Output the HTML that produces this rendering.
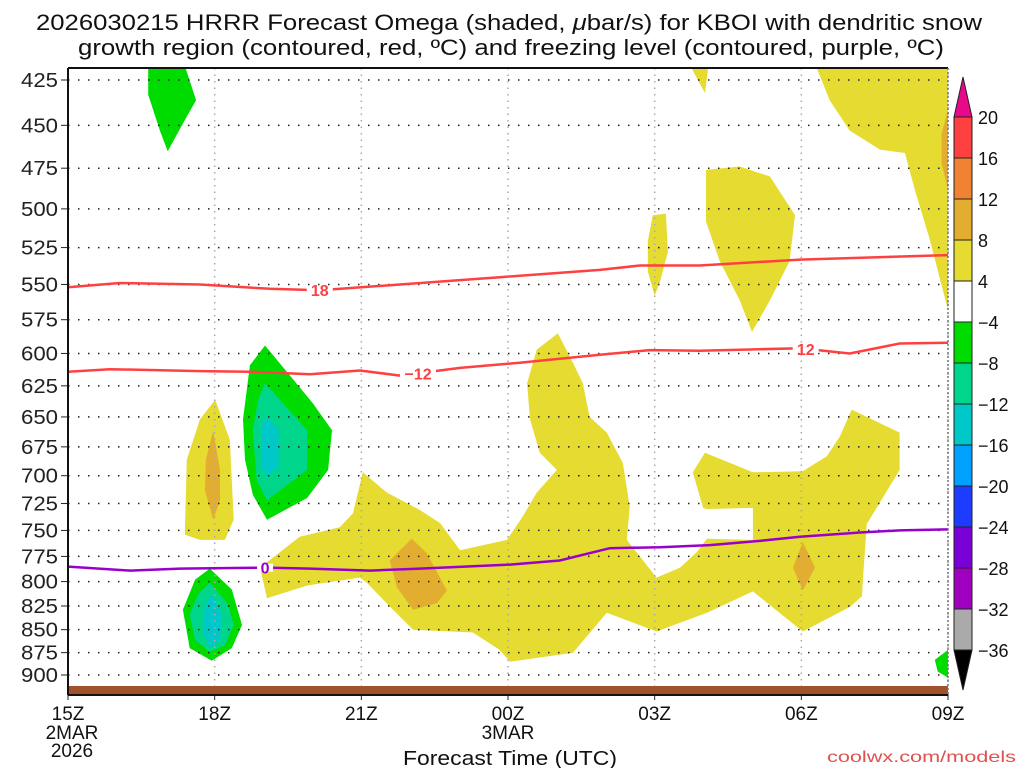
<!DOCTYPE html>
<html><head><meta charset="utf-8"><style>
html,body{margin:0;padding:0;background:#fff;width:1024px;height:768px;overflow:hidden}
svg text{font-family:"Liberation Sans",sans-serif}
</style></head><body>
<svg id="chart" width="1024" height="768" xmlns="http://www.w3.org/2000/svg">
<g id="title" font-size="22" fill="#111" text-anchor="middle">
<text x="509" y="30" textLength="946" lengthAdjust="spacingAndGlyphs">2026030215 HRRR Forecast Omega (shaded, <tspan font-style="italic">μ</tspan>bar/s) for KBOI with dendritic snow</text>
<text x="511" y="55" textLength="866" lengthAdjust="spacingAndGlyphs">growth region (contoured, red, ºC) and freezing level (contoured, purple, ºC)</text>
</g>
<defs><clipPath id="plotclip"><rect x="68" y="68" width="880" height="618"/></clipPath></defs>
<g id="fills" clip-path="url(#plotclip)"></g>
<g id="grid"></g>
<rect x="68" y="686" width="880" height="8" fill="#a0522d"/>
<g id="lines" clip-path="url(#plotclip)"></g>
<g id="axes"></g>
<g id="cbar"></g>
<text x="510" y="765" font-size="20" textLength="214" lengthAdjust="spacingAndGlyphs" text-anchor="middle" fill="#111">Forecast Time (UTC)</text>
<text x="1016" y="762" font-size="16" textLength="189" lengthAdjust="spacingAndGlyphs" text-anchor="end" fill="#e05050">coolwx.com/models</text>
</svg>
<script>
const pressureTicks=[425,450,475,500,525,550,575,600,625,650,675,700,725,750,775,800,825,850,875,900];
const hourTicks=[0,3,6,9,12,15,18];
const hourLabels=['15Z','18Z','21Z','00Z','03Z','06Z','09Z'];
const cbarLabels=['20','16','12','8','4','−4','−8','−12','−16','−20','−24','−28','−32','−36'];
const cbarColors=['#ff4040','#f08232','#e3ae30','#e5db31','#ffffff','#00dc00','#00d58c','#00c8c8','#00a0ff','#1e3cff','#7a00d8','#a000c0','#aaaaaa'];
// shaded omega regions: [hour, pressure]
const yellowA=[[15.32,419],[18,419],[18,568],[17.63,520],[17.32,488],[17.12,466],[16.61,464],[15.99,453],[15.58,436]];
const yellowB=[[12.76,419],[13.09,419],[13.03,432]];
const yellowC=[[13.05,476],[13.74,474],[14.36,480],[14.87,504],[14.76,534],[14.36,561],[13.99,584],[13.74,561],[13.33,534],[13.05,508]];
const yellowD=[[11.96,504],[12.23,503],[12.27,528],[12.11,548],[12.0,558],[11.86,541],[11.86,521]];
const yellowE=[[3.93,786],[4.74,756],[5.56,747],[5.83,734],[6.03,697],[6.52,715],[7.20,731],[7.61,743],[8.02,769],[8.98,759],[9.30,737],[9.59,715],[10.00,695],[9.65,680],[9.45,652],[9.39,623],[9.59,597],[10.02,585],[10.33,607],[10.53,623],[10.67,650],[11.02,663],[11.35,689],[11.49,728],[11.43,759],[12.04,796],[12.52,786],[12.86,771],[13.07,758],[14.01,759],[14.01,729],[13.07,730],[12.99,729],[12.78,697],[13.03,680],[14.01,697],[15.03,696],[15.52,683],[15.79,666],[16.03,644],[17.01,663],[17.01,695],[16.54,729],[16.34,744],[16.26,798],[16.24,815],[15.99,826],[15.03,852],[14.01,810],[13.07,832],[12.04,852],[11.02,832],[10.33,875],[9.04,885],[8.83,872],[8.28,853],[7.06,850],[6.65,829],[6.11,801],[5.97,796],[4.89,804],[4.07,817]];
const yellowF=[[3.01,636],[3.31,669],[3.35,704],[3.39,740],[3.21,759],[2.70,759],[2.39,754],[2.43,686],[2.70,652]];
const orangeA=[[18,441],[17.87,455],[17.87,472],[18,488]];
const orangeE1=[[6.58,779],[7.03,758],[7.34,772],[7.75,809],[7.55,822],[7.06,829],[6.73,806]];
const orangeE2=[[15.03,761],[15.28,786],[15.03,809],[14.83,786]];
const orangeF=[[2.97,661],[3.11,695],[3.11,722],[2.97,740],[2.80,713],[2.82,686]];
const greenTop=[[1.64,419],[2.41,419],[2.62,436],[2.45,444],[2.04,465],[1.88,453],[1.64,433]];
const greenMid=[[4.03,594],[4.54,617],[5.01,639],[5.40,661],[5.32,695],[4.89,720],[4.07,740],[3.78,717],[3.62,686],[3.58,652],[3.72,609]];
const tealMid=[[4.03,623],[4.89,661],[4.89,695],[4.07,722],[3.86,704],[3.78,661],[3.89,636]];
const cyanMid=[[4.07,650],[4.31,661],[4.31,692],[4.07,701],[3.95,692],[3.97,655]];
const greenLow=[[2.90,787],[3.35,808],[3.56,845],[3.35,870],[2.94,884],[2.49,870],[2.35,829],[2.60,798]];
const tealLow=[[2.90,801],[3.27,823],[3.39,845],[3.21,867],[2.90,874],[2.60,861],[2.49,834],[2.66,813]];
const cyanLow=[[2.94,813],[3.15,834],[3.11,861],[2.90,870],[2.76,850],[2.80,824]];
const greenRight=[[18,872],[17.73,883],[17.79,896],[18,903]];
// contour lines
const hours18=[0,1.06,2.7,4.13,5.15,6.79,8.83,10.88,11.7,12.92,14.97,18];
const p18=[552,549,550,553,554,550,545,540,537,537,533,530];
const hours12=[0,0.86,2.7,3.72,4.95,5.97,6.79,8.02,9.24,10.88,11.9,12.92,13.95,14.97,15.99,17.01,18];
const p12=[614,612,613.5,614,616,613,617,611,607,601,597.5,598,597,596,600,592.5,592];
const hours0=[0,1.27,2.29,4.03,4.95,6.18,7.2,9.04,10.06,11.08,12.11,13.13,14.15,14.97,16.2,17.01,18];
const p0=[785,789,787,786,787,789,787,783,779,767,766,764,760,756,752,750,749];

const NS='http://www.w3.org/2000/svg';
const X0=68,XW=880,HMAX=18;
function xs(h){return X0+h*XW/HMAX;}
function ys(p){return 80+793*Math.log(p/425);}
function mk(tag,attrs,parent){const e=document.createElementNS(NS,tag);for(const k in attrs)e.setAttribute(k,attrs[k]);parent.appendChild(e);return e;}
const fills=document.getElementById('fills');
function poly(pts,color,name){
  const e=mk('polygon',{points:pts.map(q=>xs(q[0]).toFixed(1)+','+ys(q[1]).toFixed(1)).join(' '),fill:color},fills);
  
  
}
const Y='#e5db31',O='#e3ae30',G='#00dc00',T='#00d58c',C='#00c8c8';
poly(yellowA,Y,'omega-4-8-region');poly(yellowB,Y,'omega-4-8-region');poly(yellowC,Y,'omega-4-8-region');
poly(yellowD,Y,'omega-4-8-region');poly(yellowE,Y,'omega-4-8-region');poly(yellowF,Y,'omega-4-8-region');
poly(orangeA,O,'omega-8-12-region');poly(orangeE1,O,'omega-8-12-region');poly(orangeE2,O,'omega-8-12-region');poly(orangeF,O,'omega-8-12-region');
poly(greenTop,G,'omega-neg4-neg8-region');poly(greenMid,G,'omega-neg4-neg8-region');poly(greenLow,G,'omega-neg4-neg8-region');poly(greenRight,G,'omega-neg4-neg8-region');
poly(tealMid,T,'omega-neg8-neg12-region');poly(tealLow,T,'omega-neg8-neg12-region');
poly(cyanMid,C,'omega-neg12-neg16-region');poly(cyanLow,C,'omega-neg12-neg16-region');

const grid=document.getElementById('grid'),axes=document.getElementById('axes');
pressureTicks.forEach(p=>{
  const y=ys(p);
  const g=mk('line',{x1:X0,x2:X0+XW,y1:y,y2:y,stroke:'#222','stroke-width':1.5,'stroke-dasharray':'1.5 8.5'},grid);
  
  
  mk('line',{x1:61,x2:X0,y1:y,y2:y,stroke:'#222','stroke-width':1},axes);
  const t=mk('text',{x:58,y:y+7,'font-size':20,'text-anchor':'end',fill:'#222',textLength:37,lengthAdjust:'spacingAndGlyphs'},axes);
  t.textContent=p;
  
  
});
hourTicks.forEach((h,i)=>{
  const x=xs(h);
  const g=mk('line',{x1:x,x2:x,y1:68,y2:686,stroke:'#aaa','stroke-width':1.5,'stroke-dasharray':'1.5 5'},grid);
  
  
  mk('line',{x1:x,x2:x,y1:694,y2:700,stroke:'#222','stroke-width':1},axes);
  const t=mk('text',{x:x,y:720,'font-size':19,'text-anchor':'middle',fill:'#111'},axes);
  t.textContent=hourLabels[i];
  
  
});
[['2MAR',xs(0)+4,739],['2026',xs(0)+4,757],['3MAR',xs(9),739]].forEach(a=>{
  const t=mk('text',{x:a[1],y:a[2],'font-size':19,'text-anchor':'middle',fill:'#111'},axes);
  t.textContent=a[0];
  
  
});
mk('line',{x1:X0,x2:X0+XW,y1:68,y2:68,stroke:'#111','stroke-width':2},axes);
mk('line',{x1:X0,x2:X0,y1:68,y2:695,stroke:'#111','stroke-width':2},axes);
mk('line',{x1:X0,x2:X0+XW,y1:695,y2:695,stroke:'#111','stroke-width':2},axes);
mk('line',{x1:X0+XW,x2:X0+XW,y1:68,y2:695,stroke:'#777','stroke-width':1.5,'stroke-dasharray':'2 2'},axes);

const lines=document.getElementById('lines');
function cline(hs,ps,color,name,labH,lab){
  const d=hs.map((h,i)=>(i?'L':'M')+xs(h).toFixed(1)+','+ys(ps[i]).toFixed(1)).join(' ');
  const e=mk('path',{d:d,fill:'none',stroke:color,'stroke-width':2.5},lines);
  
  
  labH.forEach((lh,k)=>{
    let j=0;while(j<hs.length-2&&hs[j+1]<lh)j++;
    const f=(lh-hs[j])/(hs[j+1]-hs[j]);const p=ps[j]+(ps[j+1]-ps[j])*f;
    const x=xs(lh),y=ys(p);
    const w=lab[k].length*10+6;
    mk('rect',{x:x-w/2,y:y-4,width:w,height:8,fill:'#fff'},lines);
    const t=mk('text',{x:x,y:y+6,'font-size':16,'font-weight':'bold','text-anchor':'middle',fill:color},lines);
    t.textContent=lab[k];
    
    
  });
}
cline(hours18,p18,'#ff4040','contour-minus18',[5.15],['18']);
cline(hours12,p12,'#ff4040','contour-minus12',[7.16,15.09],['−12','12']);
cline(hours0,p0,'#9a00cc','freezing-level',[4.03],['0']);

const cb=document.getElementById('cbar');
const CBX=954,CBW=18,CBT=117,CBH=41;
mk('polygon',{points:`${CBX},${CBT} ${CBX+CBW},${CBT} ${CBX+CBW/2},${CBT-40}`,fill:'#e8088a',stroke:'#222'},cb);
cbarColors.forEach((c,i)=>{
  const r=mk('rect',{x:CBX,y:CBT+i*CBH,width:CBW,height:CBH,fill:c,stroke:'#222','stroke-width':1},cb);
  
  
});
const cbB=CBT+cbarColors.length*CBH;
mk('polygon',{points:`${CBX},${cbB} ${CBX+CBW},${cbB} ${CBX+CBW/2},${cbB+40}`,fill:'#000',stroke:'#222'},cb);
cbarLabels.forEach((l,i)=>{
  const t=mk('text',{x:978,y:CBT+i*CBH+7,'font-size':18,fill:'#111'},cb);
  t.textContent=l;
  
  
});
</script>
</body></html>
